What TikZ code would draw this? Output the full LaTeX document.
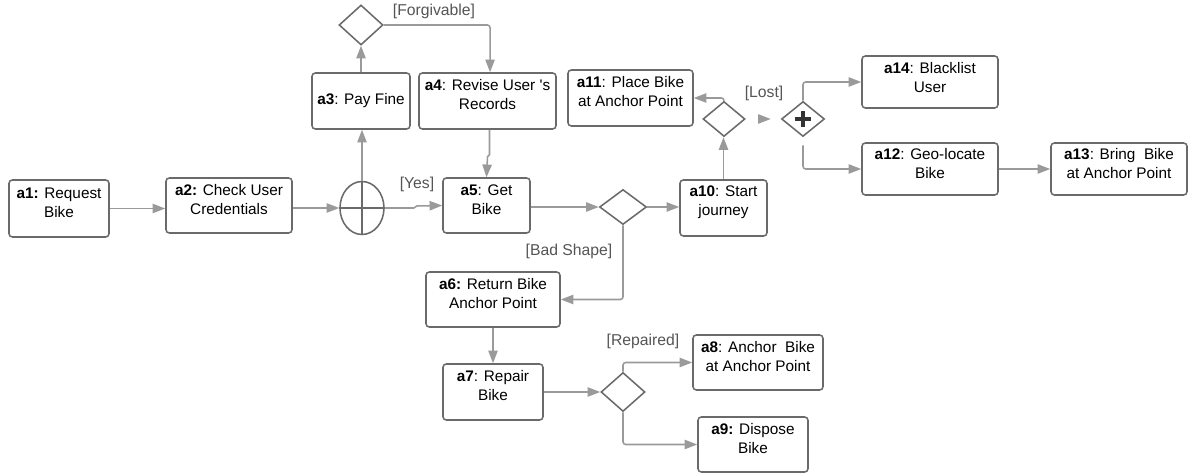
\documentclass[tikz,border=0pt]{standalone}
\usepackage{fontspec}
\setmainfont{Liberation Sans}
\usetikzlibrary{shapes.geometric,arrows.meta}
\definecolor{bord}{HTML}{6A6A6A}
\definecolor{conn}{HTML}{9A9A9A}
\definecolor{lbl}{HTML}{555555}
\begin{document}
\begin{tikzpicture}[x=0.75pt,y=-0.75pt,
 box/.style={draw=bord, line width=1.15pt, rounded corners=2.5pt, inner sep=0pt},
 sz/.style 2 args={minimum width=#1*0.75pt, minimum height=#2*0.75pt},
 txt/.style={font=\fontsize{11.5}{14.25}\selectfont, align=center, inner sep=0pt, text=black},
 gw/.style={diamond, draw=bord, line width=1.15pt, inner sep=0pt},
 flow/.style={draw=conn, line width=1.15pt, -{Triangle[length=9.5pt,width=7pt]}, rounded corners=2pt},
 guard/.style={font=\fontsize{11.8}{14}\selectfont, text=lbl, inner sep=0pt}]
\fill[white] (0,0) rectangle (1199,473);
\useasboundingbox (0,0) rectangle (1199,473);

% boxes
\node[box,sz={100}{57},label={[txt,yshift=4.5pt]center:{\textbf{a1:} Request\\Bike}}] (a1) at (59,208.5) {};
\node[box,sz={126}{55},label={[txt,yshift=4.5pt]center:{\textbf{a2:} Check User\\Credentials}}] (a2) at (229,205.5) {};
\node[box,sz={98}{56},label={[txt]center:{\textbf{a3}: Pay Fine}}] (a3) at (361,101) {};
\node[box,sz={137}{56},label={[txt,yshift=4.5pt]center:{\textbf{a4}: Revise User \textquotesingle s\\Records}}] (a4) at (487.5,101) {};
\node[box,sz={87}{55},label={[txt,yshift=4.5pt]center:{\textbf{a5}: Get\\Bike}}] (a5) at (486.5,205.5) {};
\node[box,sz={134}{55},label={[txt,yshift=4.5pt]center:{\textbf{a6:} Return Bike\\Anchor Point}}] (a6) at (493,299.5) {};
\node[box,sz={100}{56},label={[txt,yshift=4.5pt]center:{\textbf{a7}: Repair\\Bike}}] (a7) at (493,392) {};
\node[box,sz={130}{55},label={[txt,yshift=4.5pt]center:{\textbf{a8}: Anchor\ \ Bike\\at Anchor Point}}] (a8) at (758,362.5) {};
\node[box,sz={110}{55},label={[txt,yshift=4.5pt]center:{\textbf{a9:} Dispose\\Bike}}] (a9) at (753,444.5) {};
\node[box,sz={87}{56},label={[txt,yshift=4.5pt]center:{\textbf{a10}: Start\\journey}}] (a10) at (723.5,208) {};
\node[box,sz={125}{56},label={[txt,yshift=4.5pt]center:{\textbf{a11}: Place Bike\\at Anchor Point}}] (a11) at (630.5,98) {};
\node[box,sz={136}{52},label={[txt,yshift=3.8pt]center:{\textbf{a12}: Geo-locate\\Bike}}] (a12) at (930,169) {};
\node[box,sz={136}{52},label={[txt,yshift=3.8pt]center:{\textbf{a13}: Bring\ \ Bike\\at Anchor Point}}] (a13) at (1119,169) {};
\node[box,sz={136}{52},label={[txt,yshift=3.5pt]center:{\textbf{a14}: Blacklist\\User}}] (a14) at (930,82) {};

% gateways
\node[ellipse, draw=bord, line width=1.15pt, inner sep=0pt, sz={44}{53}] (g1) at (362,208) {};
\draw[bord, line width=1.15pt] (g1.north) -- (g1.south) (g1.west) -- (g1.east);
\node[gw,sz={44}{40}] (d1) at (361,25) {};
\node[gw,sz={47}{35}] (d2) at (623,207) {};
\node[gw,sz={44}{39}] (d3) at (623,392) {};
\node[gw,sz={42}{35}] (d4) at (724,119) {};
\node[gw,sz={43}{35}] (d5) at (803,119) {};
\draw[black!80, line width=3pt] ([xshift=-6.3pt]d5.center) -- ([xshift=6.3pt]d5.center)
  ([yshift=-6.3pt]d5.center) -- ([yshift=6.3pt]d5.center);

% connectors
\draw[flow] (a1.east) -- (a2.west |- a1.east);
\draw[flow] (a2.east |- g1.west) -- (g1.west);
\draw[flow] (g1.north) -- (g1.north |- a3.south);
\draw[flow, rounded corners=0pt] (g1.east) -- ++(29,0) -- ++(3,-2) -- (a5.west);
\draw[flow] (a3.north) -- (a3.north |- d1.south);
\draw[flow] (d1.east) -| ([xshift=1.9pt]a4.north);
\draw[flow, rounded corners=0pt] ([xshift=1.5pt]a4.south) -- ++(0,25) -- ++(-2,2) -- (a5.north);
\draw[flow] (a5.east |- d2.west) -- (d2.west);
\draw[flow] (d2.east) -- (a10.west |- d2.east);
\draw[flow] (d2.south) |- (a6.east);
\draw[flow] (a6.south) -- (a7.north);
\draw[flow] (a7.east) -- (d3.west);
\draw[flow] (d3.north) |- (a8.west);
\draw[flow] (d3.south) |- (a9.west);
\draw[flow] (a10.north) -- (a10.north |- d4.south);
\draw[flow] (d4.north) |- (a11.east);
\draw[flow, shorten <=9pt, shorten >=7.5pt] (d4.east) -- (d5.west);
\draw[flow] (d5.north) |- (a14.west);
\draw[flow, shorten <=6pt] (d5.south) |- (a12.west);
\draw[flow] (a12.east) -- (a13.west);

% guards
\node[guard] (gforg) at (434,11) {[Forgivable]};
\node[guard] (gyes) at (417,184) {[Yes]};
\node[guard] (glost) at (764,93) {[Lost]};
\node[guard] (gbad) at (569,251) {[Bad Shape]};
\node[guard] (grep) at (643,341) {[Repaired]};
\end{tikzpicture}
\end{document}
